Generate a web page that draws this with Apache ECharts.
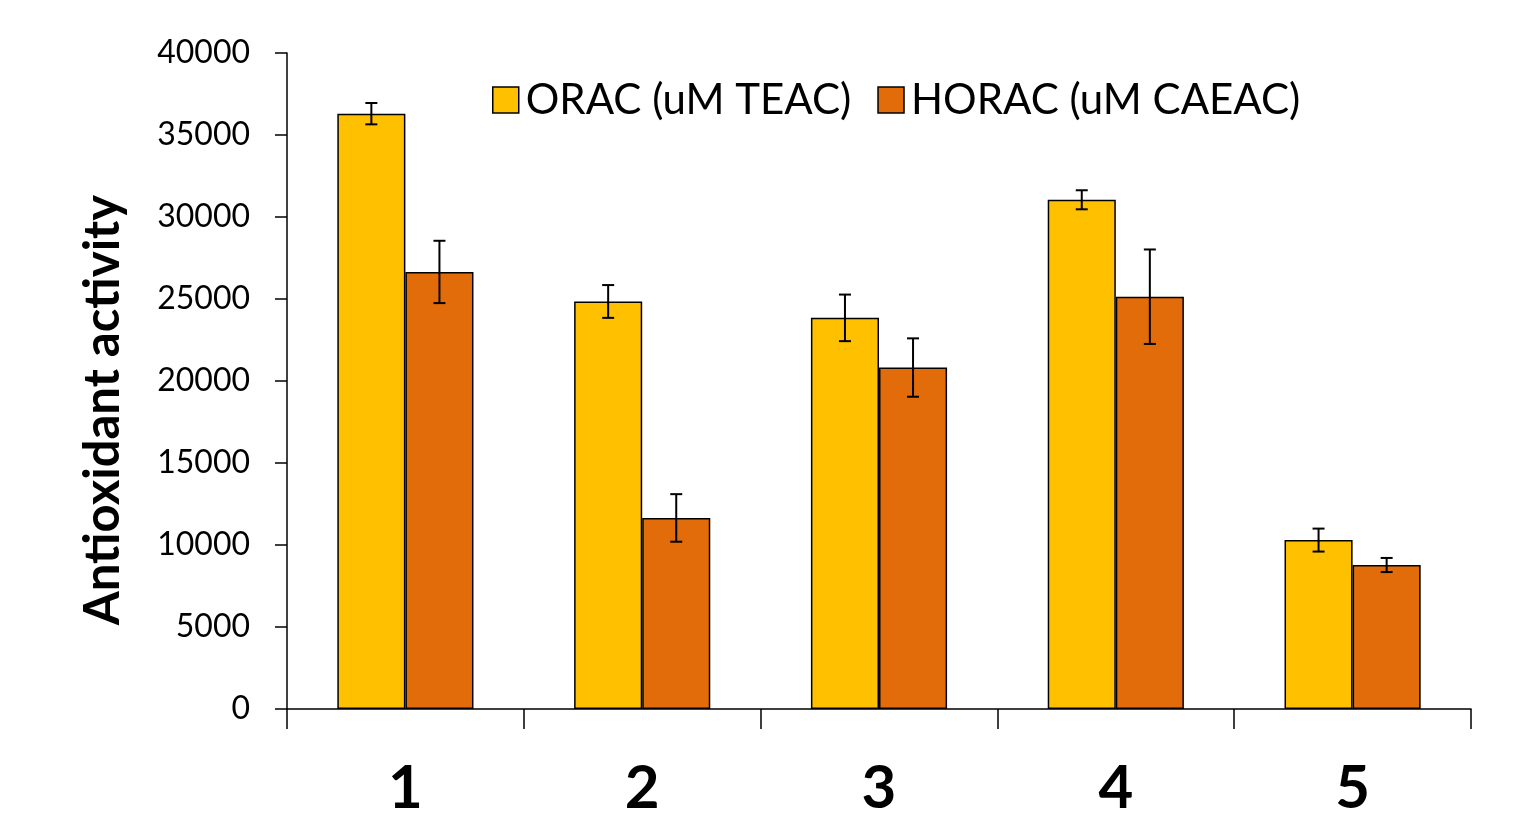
<!DOCTYPE html>
<html>
<head>
<meta charset="utf-8">
<script src="https://cdn.jsdelivr.net/npm/echarts@6/dist/echarts.min.js"></script>
<style>html,body{margin:0;padding:0;background:#fff;}#c{width:1520px;height:819px;}</style>
</head>
<body>
<div id="c"></div>
<script>
var categories = ['1', '2', '3', '4', '5'];
var seriesNames = ['ORAC (uM TEAC)', 'HORAC (uM CAEAC)'];
var oracValues = [36300, 24850, 23850, 31050, 10300];
var oracErrors = [650, 1000, 1420, 580, 700];
var horacValues = [26650, 11650, 20820, 25140, 8780];
var horacErrors = [1900, 1450, 1780, 2880, 430];
var yTicks = [0, 5000, 10000, 15000, 20000, 25000, 30000, 35000, 40000];
var yTitle = 'Antioxidant activity';

var FONT = 'Lato, "Open Sans", sans-serif';
var CAT_GAP = 0.425;

function errorSeries(values, errors, idx) {
  var data = values.map(function (v, i) { return [i, v - errors[i], v + errors[i]]; });
  return {
    type: 'custom',
    name: seriesNames[idx] + ' error',
    data: data,
    z: 10,
    silent: true,
    renderItem: function (params, api) {
      var ci = api.value(0);
      var lo = api.coord([ci, api.value(1)]);
      var hi = api.coord([ci, api.value(2)]);
      var band = api.size([1, 0])[0];
      var barW = band * (1 - CAT_GAP) / 2;
      var x = lo[0] + (idx === 0 ? -barW / 2 : barW / 2);
      var cap = 6;
      var st = { stroke: '#000', lineWidth: 2 };
      return {
        type: 'group',
        children: [
          { type: 'line', shape: { x1: x, y1: lo[1], x2: x, y2: hi[1] }, style: st },
          { type: 'line', shape: { x1: x - cap, y1: lo[1], x2: x + cap, y2: lo[1] }, style: st },
          { type: 'line', shape: { x1: x - cap, y1: hi[1], x2: x + cap, y2: hi[1] }, style: st }
        ]
      };
    }
  };
}

var chart = echarts.init(document.getElementById('c'));
chart.setOption({
  animation: false,
  backgroundColor: '#fff',
  grid: { left: 287, right: 49, top: 53, bottom: 110, containLabel: false },
  graphic: [{
    type: 'text',
    x: 103,
    y: 410,
    rotation: Math.PI / 2,
    style: {
      text: yTitle,
      fontFamily: FONT,
      fontSize: 49,
      fontWeight: 'bold',
      fill: '#000',
      align: 'center',
      verticalAlign: 'middle'
    }
  }],
  legend: {
    data: seriesNames,
    left: 487,
    top: 74,
    icon: 'rect',
    itemWidth: 26,
    itemHeight: 26,
    itemGap: 26,
    textStyle: { fontFamily: FONT, fontSize: 42, color: '#000', padding: [0, 0, 0, 2] },
    itemStyle: { borderColor: '#000', borderWidth: 1.5 }
  },
  xAxis: {
    type: 'category',
    data: categories,
    boundaryGap: true,
    axisLine: { lineStyle: { color: '#000', width: 1.5 } },
    axisTick: { show: true, length: 20, lineStyle: { color: '#000', width: 1.5 } },
    axisLabel: { fontFamily: FONT, fontSize: 60, fontWeight: 'bold', color: '#000', margin: 50 },
    splitLine: { show: false }
  },
  yAxis: {
    type: 'value',
    min: 0,
    max: 40000,
    interval: 5000,
    axisLine: { show: true, lineStyle: { color: '#000', width: 1.5 } },
    axisTick: { show: true, length: 12, lineStyle: { color: '#000', width: 1.5 } },
    axisLabel: {
      fontFamily: FONT, fontSize: 32, color: '#000', margin: 37,
      formatter: function (v) { return yTicks.indexOf(v) >= 0 ? String(v) : ''; }
    },
    splitLine: { show: false }
  },
  series: [
    {
      name: seriesNames[0], type: 'bar', data: oracValues,
      barGap: 0, barCategoryGap: (CAT_GAP * 100) + '%',
      itemStyle: { color: '#FFC000', borderColor: '#000', borderWidth: 1.5 }
    },
    {
      name: seriesNames[1], type: 'bar', data: horacValues,
      barGap: 0, barCategoryGap: (CAT_GAP * 100) + '%',
      itemStyle: { color: '#E36C0A', borderColor: '#000', borderWidth: 1.5 }
    },
    errorSeries(oracValues, oracErrors, 0),
    errorSeries(horacValues, horacErrors, 1)
  ]
});
</script>
</body>
</html>
